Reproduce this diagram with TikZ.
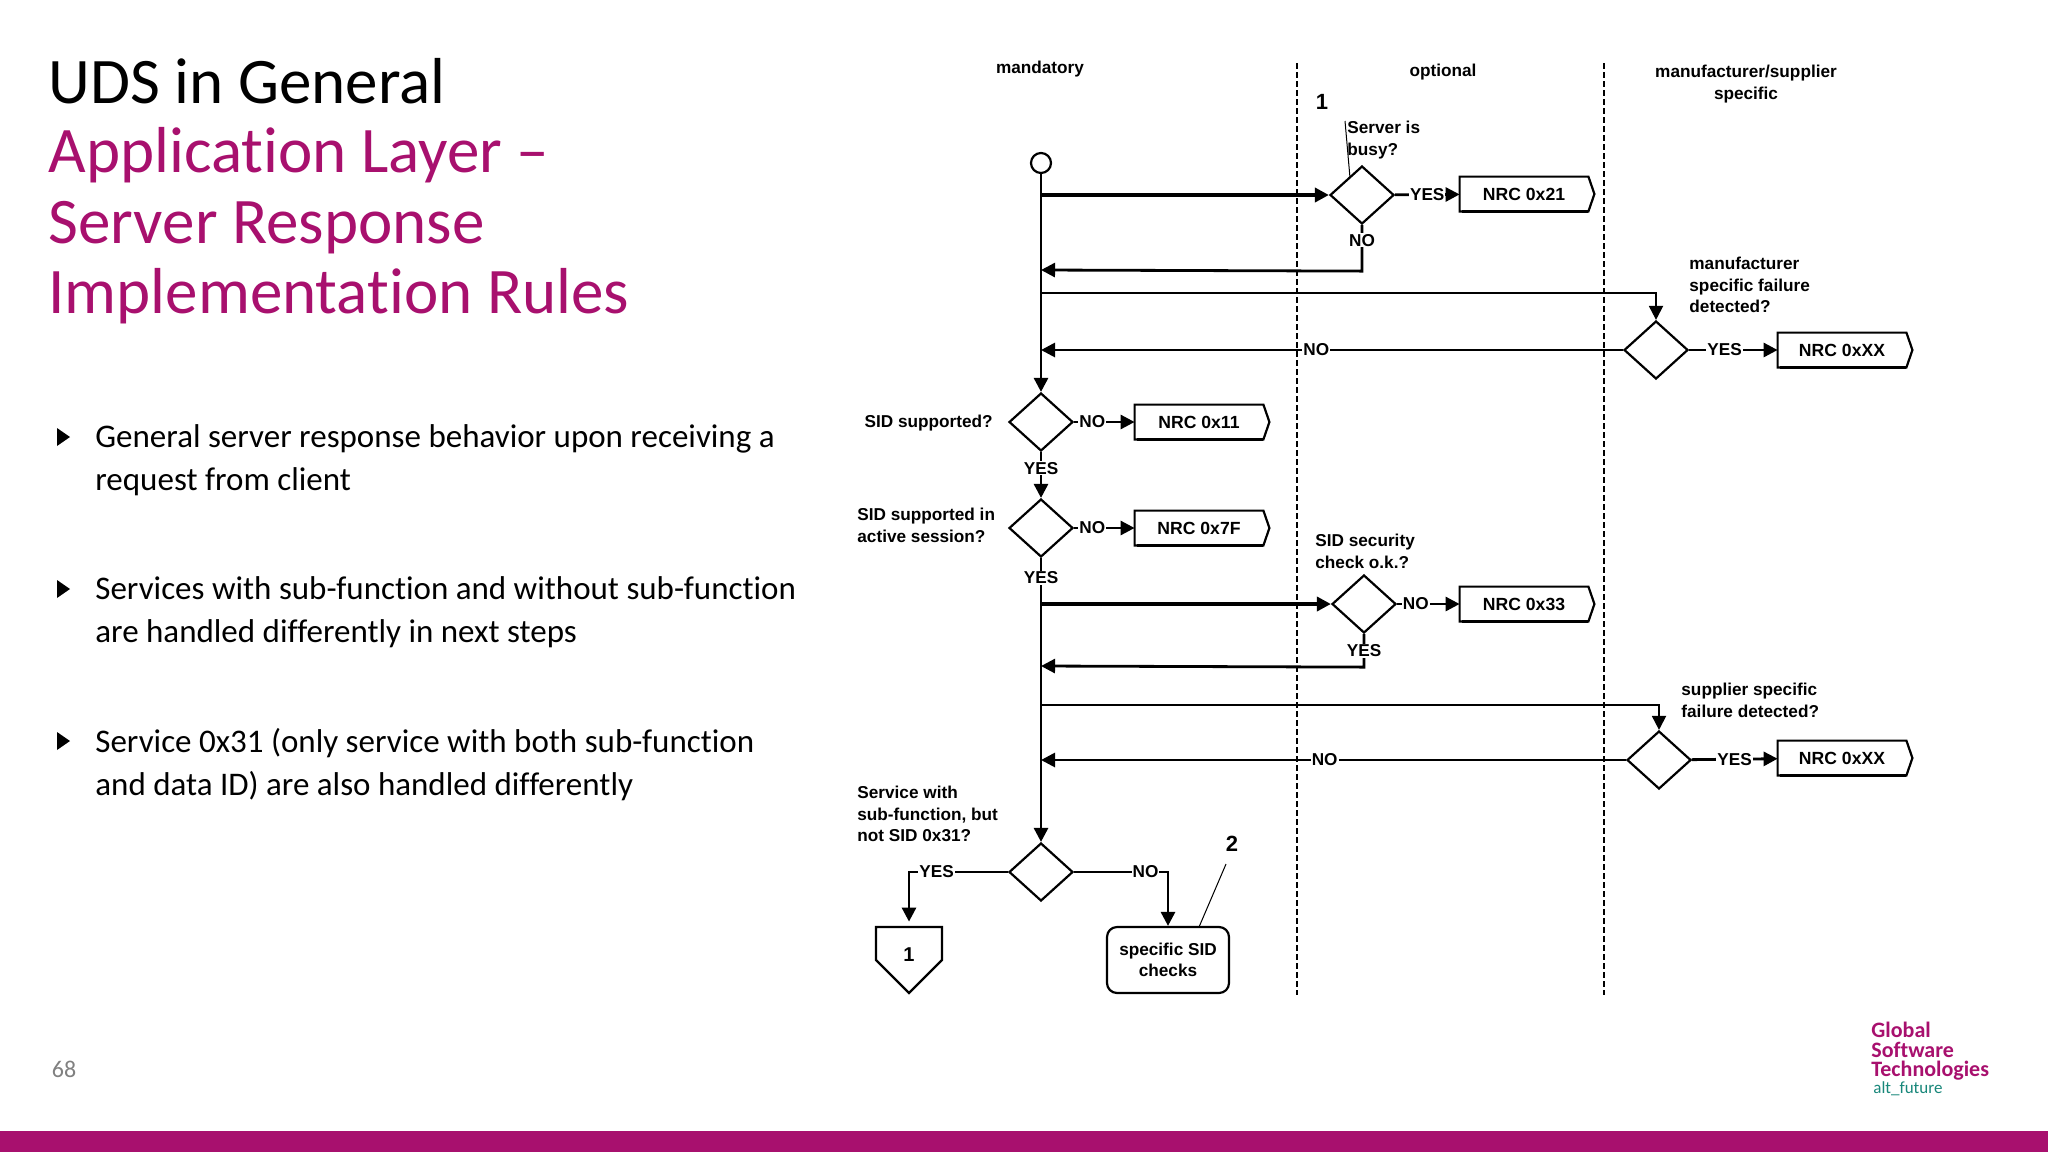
\documentclass[tikz,border=0pt]{standalone}
\usepackage{fontspec}
\setmainfont{Carlito}[Ligatures={NoCommon}]
\newfontfamily\diag{Liberation Sans}
\usetikzlibrary{shapes.geometric,arrows.meta}
\definecolor{mag}{HTML}{A8106E}
\definecolor{teal2}{HTML}{18877A}
\begin{document}
\begin{tikzpicture}[x=0.5pt,y=-0.5pt,
  lbl/.style={font=\diag\bfseries\fontsize{8.6}{10.6}\selectfont, inner sep=1pt},
  yn/.style={lbl, fill=white, inner sep=0.5pt},
  dia/.style={diamond, draw, line width=1.1pt, minimum width=32pt, minimum height=29pt, inner sep=0pt},
  nrc/.style={lbl, font=\diag\bfseries\fontsize{8.8}{10}\selectfont, minimum width=64pt, minimum height=17pt, inner sep=0pt},
  flow/.style={line width=1.4pt},
  arr/.style={flow, -{Triangle[length=7pt,width=7pt]}},
  lane/.style={line width=0.8pt, dash pattern=on 3pt off 1.5pt},
  bul/.style={font=\fontsize{16.5}{21.5}\selectfont, anchor=north west, align=left, inner sep=0},
]
\useasboundingbox (0,0) rectangle (2048,1152);
\fill[white] (0,0) rectangle (2048,1152);
% ---- left text
\node[anchor=west, font=\fontsize{32.5}{35}\selectfont, inner sep=0] (t1) at (48,81) {UDS in General};
\node[anchor=north west, font=\fontsize{32.5}{35.3}\selectfont, text=mag, align=left, inner sep=0] (t2) at (48,127)
  {Application Layer --\\Server Response\\Implementation Rules};
\foreach \y/\n in {437/b1,589/b2,741/b3}{
  \fill (57,\y-9) -- (70,\y) -- (57,\y+9) -- cycle;
}
\node[bul] (b1) at (95,424) {General server response behavior upon receiving a\\request from client};
\node[bul] (b2) at (95,576) {Services with sub-function and without sub-function\\are handled differently in next steps};
\node[bul] (b3) at (95,728) {Service 0x31 (only service with both sub-function\\and data ID) are also handled differently};
\node[font=\fontsize{12}{14}\selectfont, text=gray, inner sep=0] (pg) at (64,1069) {68};
\fill[mag] (0,1131) rectangle (2048,1152);
\node[anchor=north west, font=\bfseries\fontsize{11}{9.6}\selectfont, text=mag, align=left, inner sep=0] (logo) at (1871,1022)
  {Global\\Software\\Technologies};
\node[anchor=north west, font=\fontsize{8.5}{9}\selectfont, text=teal2, inner sep=0] (alt) at (1873,1081) {alt\_future};
% ---- lanes
\draw[lane] (1297,63) -- (1297,995);
\draw[lane] (1604,63) -- (1604,995);
\node[lbl] (h1) at (1040,69) {mandatory};
\node[lbl] (h2) at (1443,72) {optional};
\node[lbl, align=center] (h3) at (1746,84) {manufacturer/supplier\\specific};
% ---- nodes
\node[circle, draw, line width=1.1pt, minimum size=10pt, inner sep=0] (start) at (1041,163) {};
\node[dia] (busy) at (1362,195) {};
\node[dia] (mfr) at (1656,350) {};
\node[dia] (sid1) at (1041,422) {};
\node[dia] (sid2) at (1041,528) {};
\node[dia] (sec) at (1364,604) {};
\node[dia] (sup) at (1659,760) {};
\node[dia] (svc) at (1041,872) {};
\newcommand{\nrcbox}[3]{%
  \node[nrc] (#1) at (#2) {#3};
  \draw[line width=1.1pt] (#1.north west) -- (#1.north east) -- ([xshift=3pt]#1.east) -- (#1.south east) -- (#1.south west) -- cycle;
  \draw[line width=1.9pt] ([xshift=1pt]#1.south west) -- (#1.south east);}
\nrcbox{n21}{1524,194}{NRC 0x21}
\nrcbox{nm}{1842,350}{NRC 0xXX}
\nrcbox{n11}{1199,422}{NRC 0x11}
\nrcbox{n7f}{1199,528}{NRC 0x7F}
\nrcbox{n33}{1524,604}{NRC 0x33}
\nrcbox{ns}{1842,758}{NRC 0xXX}
% labels
\node[lbl, anchor=north west, align=left] (q1) at (1345,119) {Server is\\busy?};
\node[lbl] (one) at (1322,102) {\fontsize{11}{11}\selectfont 1};
\draw[line width=0.5pt] (1345,121) -- (1350,178);
\node[lbl, anchor=north west, align=left] (q2) at (1687,255) {manufacturer\\specific failure\\detected?};
\node[lbl, anchor=east] (q3) at (995,423) {SID supported?};
\node[lbl, anchor=north west, align=left] (q4) at (855,506) {SID supported in\\active session?};
\node[lbl, anchor=north west, align=left] (q5) at (1313,532) {SID security\\check o.k.?};
\node[lbl, anchor=north west, align=left] (q6) at (1679,681) {supplier specific\\failure detected?};
\node[lbl, anchor=north west, align=left] (q7) at (855,784) {Service with\\sub-function, but\\not SID 0x31?};
% coordinates on main line
\coordinate (m1) at (1041,195);
\coordinate (m2) at (1041,270);
\coordinate (m3) at (1041,293);
\coordinate (m4) at (1041,350);
\coordinate (m5) at (1041,604);
\coordinate (m6) at (1041,666);
\coordinate (m7) at (1041,705);
\coordinate (m8) at (1041,760);
% main line
\draw[arr] (start) -- (sid1);
\draw[arr] (sid1) -- node[yn, pos=0.35] {YES} (sid2);
\draw[arr] (sid2) -- node[yn, pos=0.07] {YES} (svc);
% busy
\draw[arr, line width=1.8pt] (m1) -- (busy);
\draw[arr] (busy) -- node[yn] {YES} (n21);
\draw[arr] (busy.south) -- node[yn, pos=0.33] {NO} ++(0,46) -- (m2);
% manufacturer
\draw[arr, line width=1pt] (m3) -| (mfr.north);
\draw[arr] (mfr) -- node[yn, pos=0.4] {YES} (nm);
\draw[arr] (mfr) -- node[yn, pos=0.527] {NO} (m4);
% sid
\draw[arr] (sid1) -- node[yn, pos=0.3] {NO} (n11);
\draw[arr] (sid2) -- node[yn, pos=0.3] {NO} (n7f);
% security
\draw[arr, line width=1.8pt] (m5) -- (sec);
\draw[arr] (sec) -- node[yn, pos=0.3] {NO} (n33);
\draw[arr] (sec.south) -- node[yn, pos=0.5] {YES} ++(0,33) -- (m6);
% supplier
\draw[arr, line width=1pt] (m7) -| (sup.north);
\draw[arr] (sup) -- node[yn, pos=0.5] {YES} (ns);
\draw[arr] (sup) -- node[yn, pos=0.515] {NO} (m8);
% service
\node[lbl, minimum width=33pt, minimum height=33pt] (off) at (909,955) {\fontsize{10}{10}\selectfont 1};
\draw[line width=1.1pt] (876,927) -- (942,927) -- (942,960) -- (909,993) -- (876,960) -- cycle;
\node[lbl, draw, line width=1.1pt, rounded corners=5pt, minimum width=61pt, minimum height=33pt, align=center] (spec) at (1168,960) {specific SID\\checks};
\draw[arr] (svc.west) -- node[yn, pos=0.72] {YES} (909,872) -- (off.north);
\draw[arr] (svc.east) -- node[yn, pos=0.76] {NO} (1168,872) -- (spec.north);
\node[lbl] (two) at (1232,844) {\fontsize{11}{11}\selectfont 2};
\draw[line width=0.5pt] (1226,864) -- (1199,927);
\end{tikzpicture}
\end{document}
